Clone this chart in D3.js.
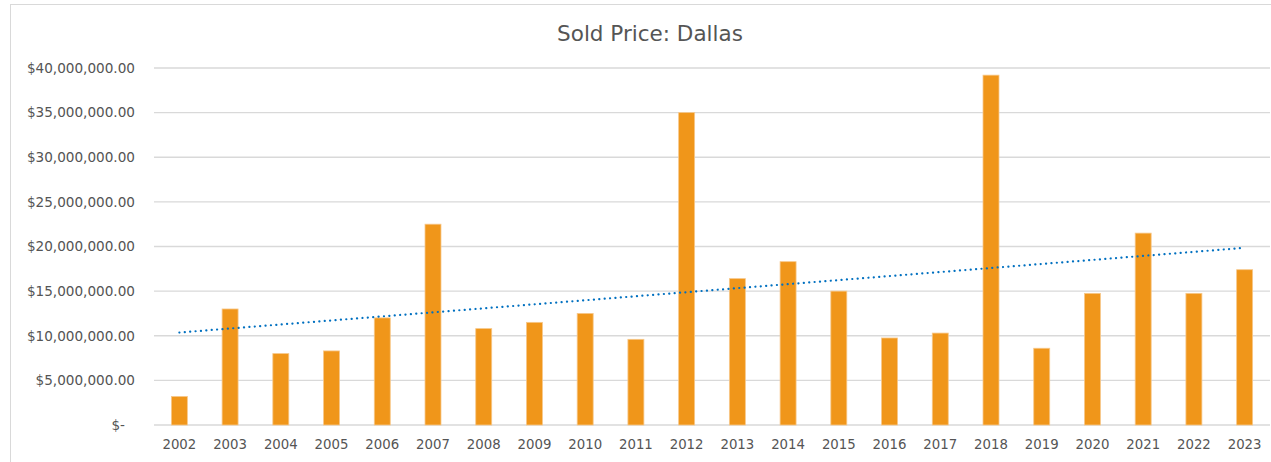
<!DOCTYPE html>
<html>
<head>
<meta charset="utf-8">
<script src="https://cdn.jsdelivr.net/npm/d3@7"></script>
<style>
  body { margin: 0; background: #fff; }
  svg text { font-family: "DejaVu Sans", Verdana, sans-serif; fill: #555; }
</style>
</head>
<body>
<div id="chart"></div>
<script>
const years = ["2002", "2003", "2004", "2005", "2006", "2007", "2008", "2009", "2010", "2011",
  "2012", "2013", "2014", "2015", "2016", "2017", "2018", "2019", "2020", "2021", "2022", "2023"];
const soldPrice = [3200000, 13000000, 8000000, 8300000, 12000000, 22500000, 10800000, 11500000,
  12500000, 9600000, 35000000, 16400000, 18300000, 15000000, 9750000, 10300000, 39200000,
  8600000, 14750000, 21500000, 14750000, 17400000];
const yTicks = [0, 5000000, 10000000, 15000000, 20000000, 25000000, 30000000, 35000000, 40000000];

const width = 1271;
const height = 462;
const margin = {top: 68, right: 1, left: 154, bottom: 37};

const svg = d3.select("#chart").append("svg")
  .attr("width", width)
  .attr("height", height);

// chart frame
svg.append("rect")
  .attr("x", 10.5).attr("y", 4.5)
  .attr("width", width + 20).attr("height", height + 20)
  .attr("fill", "none")
  .attr("stroke", "#d9d9d9");

const x = d3.scaleBand()
  .domain(years)
  .range([margin.left, width - margin.right])
  .paddingInner(0.685)
  .paddingOuter(0.3425);

const y = d3.scaleLinear()
  .domain([0, 40000000])
  .range([height - margin.bottom, margin.top]);

// gridlines
svg.append("g")
  .selectAll("line")
  .data(yTicks)
  .join("line")
  .attr("x1", margin.left)
  .attr("x2", width - margin.right)
  .attr("y1", (d) => y(d))
  .attr("y2", (d) => y(d))
  .attr("stroke", "#d9d9d9")
  .attr("stroke-width", 1.3);

// y labels
const fmt = d3.format("$,.2f");
svg.append("g")
  .selectAll("text")
  .data(yTicks)
  .join("text")
  .attr("x", (d) => d === 0 ? 125 : 135)
  .attr("y", (d) => y(d))
  .attr("dy", "0.35em")
  .attr("text-anchor", "end")
  .attr("font-size", 13.6)
  .text((d) => d === 0 ? "$-" : fmt(d));

// bars
svg.append("g")
  .selectAll("rect")
  .data(soldPrice)
  .join("rect")
  .attr("x", (d, i) => x(years[i]))
  .attr("y", (d) => y(d))
  .attr("width", x.bandwidth())
  .attr("height", (d) => y(0) - y(d))
  .attr("fill", "#f0961a")
  .attr("stroke", "#f7c88a")
  .attr("stroke-width", 0.8);

// x labels
svg.append("g")
  .selectAll("text")
  .data(years)
  .join("text")
  .attr("x", (d) => x(d) + x.bandwidth() / 2)
  .attr("y", 449)
  .attr("text-anchor", "middle")
  .attr("font-size", 13.3)
  .text((d) => d);

// linear trendline
const xs = soldPrice.map((d, i) => i + 1);
const mx = d3.mean(xs);
const my = d3.mean(soldPrice);
const slope = d3.sum(xs, (v, i) => (v - mx) * (soldPrice[i] - my)) / d3.sum(xs, (v) => (v - mx) ** 2);
const icpt = my - slope * mx;
const trend = years.map((yr, i) => [x(yr) + x.bandwidth() / 2, y(icpt + slope * (i + 1))]);

svg.append("path")
  .datum(trend)
  .attr("d", d3.line())
  .attr("fill", "none")
  .attr("stroke", "#0070c0")
  .attr("stroke-width", 2.2)
  .attr("stroke-linecap", "round")
  .attr("stroke-dasharray", "0.1 5.3");

// title
svg.append("text")
  .attr("x", 650)
  .attr("y", 41)
  .attr("text-anchor", "middle")
  .attr("font-size", 21.5)
  .text("Sold Price: Dallas");
</script>
</body>
</html>
